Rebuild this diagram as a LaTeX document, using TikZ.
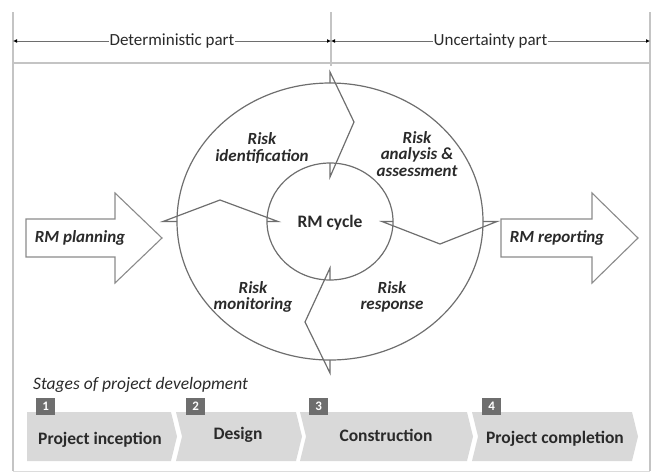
\documentclass[tikz,border=0pt]{standalone}
\usepackage{fontspec}
\setmainfont{Carlito}
\usetikzlibrary{arrows.meta}
\definecolor{linea}{HTML}{6E6E6E}
\definecolor{cornice}{HTML}{C4C4C4}
\definecolor{testo}{HTML}{2A2A2A}
\definecolor{fase}{HTML}{D9D9D9}
\definecolor{numero}{HTML}{6E6E6E}
\begin{document}
\begin{tikzpicture}[x=1pt, y=-1pt,
    etichetta/.style={text=testo, align=center, inner sep=1pt,
        font=\fontsize{17}{16.5}\selectfont\bfseries\itshape},
    fasetxt/.style={text=testo, inner sep=1pt, font=\fontsize{17.5}{18}\selectfont\bfseries},
    numbox/.style={fill=numero, text=white, minimum width=19pt, minimum height=17pt,
        inner sep=0pt, font=\fontsize{13}{13}\selectfont\bfseries},
    freccia/.style={draw=linea!80, line width=1.1pt, fill=white, line join=miter},
    divisore/.style={draw=linea, line width=1.2pt, line join=miter}]
    \useasboundingbox (0,0) rectangle (656,475);

    % Cornice
    \draw[cornice, line width=1.2pt] (13,12) -- (13,471);
    \draw[cornice, line width=1.2pt] (650,12) -- (650,471);
    \draw[cornice!60, line width=1pt] (13,471) -- (650,471);
    \draw[cornice, line width=1.2pt] (13,63) -- (650,63);
    \draw[cornice, line width=1.2pt] (331,12) -- (331,66);

    % Parti
    \coordinate (sx) at (13,41); \coordinate (cx) at (331,41); \coordinate (dx) at (650,41);
    \draw[linea, line width=0.8pt, {Latex[length=4pt,width=4pt,color=black]}-{Latex[length=4pt,width=4pt,color=black]}] (sx) -- (cx)
        node[midway, fill=white, text=testo, inner sep=1pt, font=\fontsize{17}{17}\selectfont] (det) {Deterministic part};
    \draw[linea, line width=0.8pt, {Latex[length=4pt,width=4pt,color=black]}-{Latex[length=4pt,width=4pt,color=black]}] (cx) -- (dx)
        node[midway, fill=white, text=testo, inner sep=1pt, font=\fontsize{17}{17}\selectfont] (unc) {Uncertainty part};

    % Frecce laterali
    \draw[freccia] (26,219) -- (115,219) -- (115,193) -- (162,238) -- (115,283) -- (115,257) -- (26,257) -- cycle;
    \node[etichetta] (plan) at (80,238) {RM planning};
    \draw[freccia] (501,219) -- (592,219) -- (592,193) -- (638,238) -- (592,283) -- (592,257) -- (501,257) -- cycle;
    \node[etichetta] (rep) at (557,238) {RM reporting};

    % Ciclo
    \coordinate (c) at (330,221.5);
    \draw[divisore] (c) ellipse [x radius=153, y radius=138.5];
    \draw[divisore] (c) ellipse [x radius=63, y radius=58.5];

    % Divisori a zig-zag
    \coordinate (n_out) at (330,72);  \coordinate (n_k) at (354,122); \coordinate (n_in) at (330,177);
    \draw[divisore] (330,83) -- (n_out) -- (n_k) -- (n_in) -- (330,163);
    \coordinate (e_out) at (497,221.5); \coordinate (e_k) at (440,244); \coordinate (e_in) at (382,221.5);
    \draw[divisore] (483,221.5) -- (e_out) -- (e_k) -- (e_in) -- (393,221.5);
    \coordinate (s_out) at (330,373); \coordinate (s_k) at (305,322); \coordinate (s_in) at (330,268);
    \draw[divisore] (330,360) -- (s_out) -- (s_k) -- (s_in) -- (330,280);
    \coordinate (w_out) at (163,221.5); \coordinate (w_k) at (220,200); \coordinate (w_in) at (278,221.5);
    \draw[divisore] (177,221.5) -- (w_out) -- (w_k) -- (w_in) -- (267,221.5);

    % Testi del ciclo
    \node[etichetta] (ident) at (262,148) {Risk\\identification};
    \node[etichetta] (anal) at (417,154) {Risk\\analysis \&\\assessment};
    \node[etichetta] (monit) at (253,297) {Risk\\monitoring};
    \node[etichetta] (resp) at (392,297) {Risk\\response};
    \node[text=testo, font=\fontsize{17.5}{18}\selectfont\bfseries] (ciclo) at (330,223) {RM cycle};

    % Fasi del progetto
    \node[anchor=west, text=testo, inner sep=0pt, font=\fontsize{17.5}{18}\selectfont\itshape] (fasi) at (33,385) {Stages of project development};
    \fill[fase] (27,412) -- (171,412) -- (177,436.5) -- (171,461) -- (27,461) -- cycle;
    \fill[fase] (176,412) -- (296,412) -- (302,436.5) -- (296,461) -- (176,461) -- (182,436.5) -- cycle;
    \fill[fase] (300,412) -- (467,412) -- (473,436.5) -- (467,461) -- (300,461) -- (306,436.5) -- cycle;
    \fill[fase] (472,412) -- (632,412) -- (638,436.5) -- (632,461) -- (472,461) -- (478,436.5) -- cycle;
    \node[numbox, anchor=north west] (n1) at (36,398) {1};
    \node[numbox, anchor=north west] (n2) at (186,398) {2};
    \node[numbox, anchor=north west] (n3) at (309,398) {3};
    \node[numbox, anchor=north west] (n4) at (482,398) {4};
    \node[fasetxt] (f1) at (100,440) {Project inception};
    \node[fasetxt] (f2) at (238,435) {Design};
    \node[fasetxt] (f3) at (386,435) {Construction};
    \node[fasetxt] (f4) at (555,439) {Project completion};
\end{tikzpicture}
\end{document}
